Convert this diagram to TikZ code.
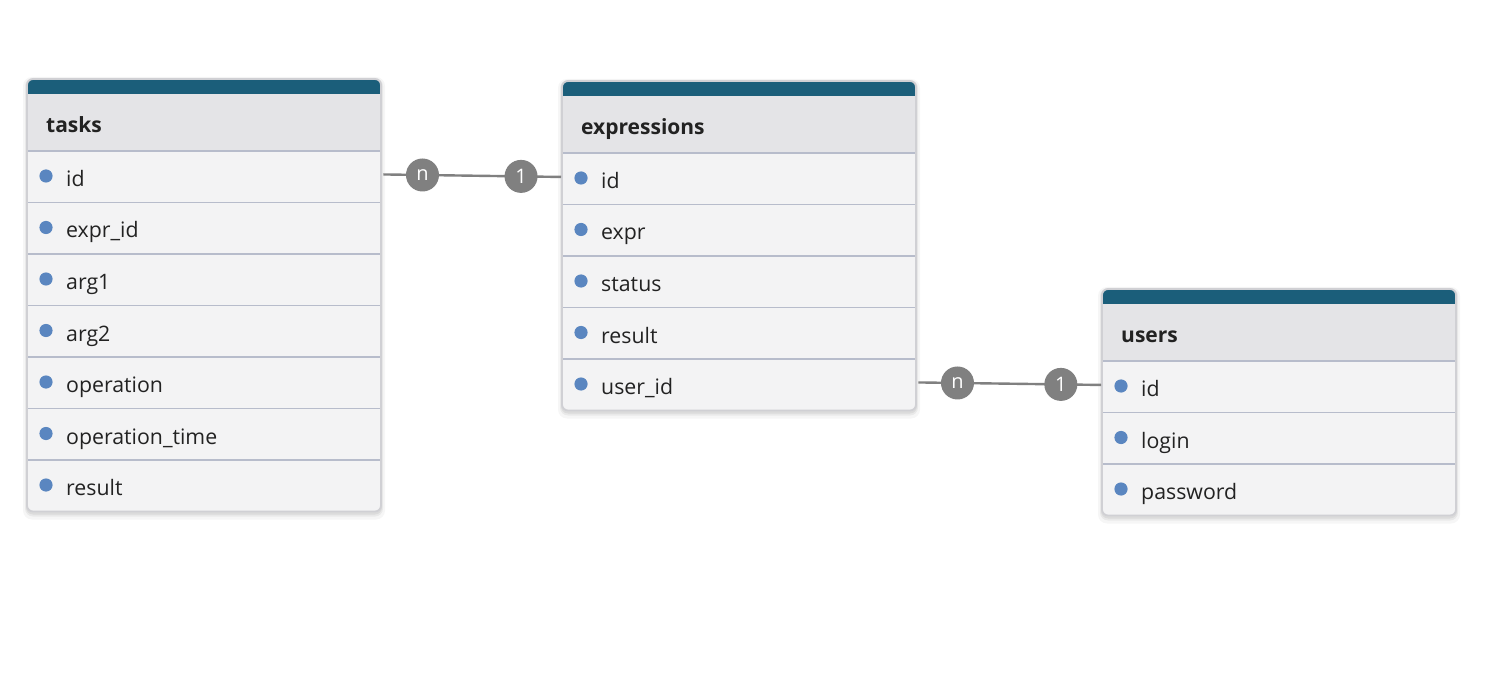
\documentclass[tikz,border=0pt]{standalone}
\usepackage{fontspec}
\setmainfont{Open Sans}
\usetikzlibrary{calc}
\definecolor{barc}{HTML}{1B5E7A}
\definecolor{hdrc}{HTML}{E4E4E7}
\definecolor{rowc}{HTML}{F3F3F4}
\definecolor{sepc}{HTML}{B7BCCB}
\definecolor{framec}{HTML}{D0D0D4}
\definecolor{dotc}{HTML}{5A86C0}
\definecolor{linkc}{HTML}{808080}
\definecolor{txtc}{HTML}{222222}
\tikzset{
  fieldrow/.style={minimum width=354pt, minimum height=51.5pt, inner sep=0pt, anchor=north west},
  fieldtext/.style={anchor=base west, text=txtc, font=\fontsize{21.3}{25}\selectfont, inner sep=0pt},
  titletext/.style={anchor=base west, text=txtc, font=\bfseries\fontsize{21}{25}\selectfont, inner sep=0pt},
  badge/.style={circle, fill=linkc, text=white, minimum size=33pt, inner sep=0pt, font=\fontsize{20}{22}\selectfont},
  linkline/.style={draw=linkc, line width=2.4pt},
}
% #1 name, #2 x, #3 y, #4 title, #5 number of fields, #6 fields
\newcommand{\erdtable}[6]{%
  \pgfmathsetmacro\tabH{72+51.5*#5}%
  \begin{scope}[shift={(#2,#3)}]
    \fill[black,opacity=0.035,rounded corners=9] (-4,-2) rectangle (358,\tabH+8);
    \fill[black,opacity=0.05,rounded corners=8] (-2,-1) rectangle (356,\tabH+5);
    \fill[black,opacity=0.06,rounded corners=7] (-1,0) rectangle (355,\tabH+3);
    \node[fill=rowc, rounded corners=6, minimum width=354pt, minimum height=\tabH pt,
          anchor=north west, inner sep=0pt] (#1) at (0,0) {};
    \begin{scope}
      \clip[rounded corners=6] (0,0) rectangle (354,\tabH);
      \fill[barc] (0,0) rectangle (354,15);
      \fill[hdrc] (0,15) rectangle (354,72);
    \end{scope}
    \node[titletext] (#1-title) at (19,53.5) {#4};
    \foreach [count=\i] \f in {#6} {
      \pgfmathsetmacro\yy{72+51.5*(\i-1)}
      \draw[sepc, line width=1.2pt] (0,\yy) -- (354,\yy);
      \node[fieldrow] (#1-\i) at (0,\yy) {};
      \fill[dotc] (19,\yy+25) circle (6.6);
      \node[fieldtext] (#1-\i-t) at (39,\yy+35.5) {\f};
    }
    \draw[framec, line width=1.8pt, rounded corners=6] (0,0) rectangle (354,\tabH);
  \end{scope}}
\begin{document}
\begin{tikzpicture}[x=1pt,y=-1pt]
\useasboundingbox[fill=white] (0,0) rectangle (1495,684);
\erdtable{tasks}{27}{79}{tasks}{7}{id,expr\_id,arg1,arg2,operation,operation\_time,result}
\erdtable{expr}{562}{81}{expressions}{5}{id,expr,status,result,user\_id}
\erdtable{users}{1102}{289}{users}{3}{id,login,password}
\draw[linkline] ([xshift=2pt,yshift=2.5pt]tasks-1.east) --
  node[badge,pos=0.22]{n} node[badge,pos=0.775]{1} ([xshift=-1pt,yshift=2pt]expr-1.west);
\draw[linkline] ([xshift=2pt,yshift=2.5pt]expr-5.east) --
  node[badge,pos=0.214]{n} node[badge,pos=0.78]{1} ([xshift=-1pt,yshift=2pt]users-1.west);
\end{tikzpicture}
\end{document}
